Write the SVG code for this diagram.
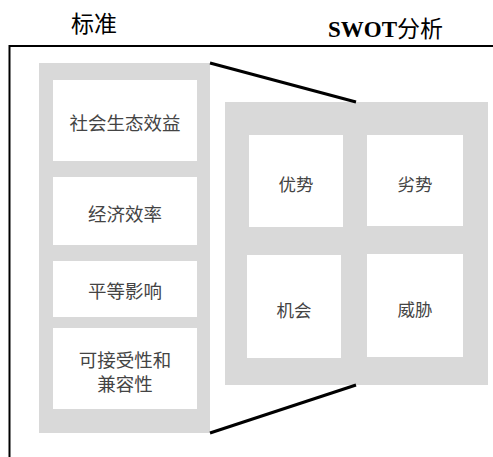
<svg xmlns="http://www.w3.org/2000/svg" width="493" height="457" viewBox="0 0 493 457">
<style>
.panel{fill:#d9d9d9}
.box{fill:#ffffff}
.lbl{font-family:"Noto Sans CJK SC","Noto Sans",sans-serif;font-size:18.5px;fill:#444;text-anchor:middle;dominant-baseline:central}
.sl{font-size:17.5px}
.title{font-family:"Noto Sans CJK SC",sans-serif;font-size:23px;fill:#000}
.frame{fill:none;stroke:#000;stroke-width:2}
.conn{stroke:#000;stroke-width:3;fill:none}
</style>
<rect width="493" height="457" fill="#fff"/>
<text class="title" x="71" y="32">标准</text>
<text class="title" x="328" y="37"><tspan font-family="'Liberation Serif',serif" font-weight="bold">SWOT</tspan>分析</text>
<path class="frame" d="M493 46H9.5V457"/>
<g id="criteria">
<rect class="panel" x="39" y="63" width="171" height="370"/>
</g>
<g id="n1"><rect class="box" x="53" y="80" width="144" height="81"/><text class="lbl" x="125" y="122">社会生态效益</text></g>
<g id="n2"><rect class="box" x="53" y="177" width="144" height="68"/><text class="lbl" x="125" y="213">经济效率</text></g>
<g id="n3"><rect class="box" x="53" y="261" width="144" height="56"/><text class="lbl" x="125" y="290">平等影响</text></g>
<g id="n4"><rect class="box" x="53" y="328" width="144" height="81"/><text class="lbl" x="125" y="359">可接受性和</text><text class="lbl" x="125" y="383">兼容性</text></g>
<g id="swot">
<rect class="panel" x="225" y="102" width="263" height="283"/>
</g>
<g id="s1"><rect class="box" x="249" y="135" width="94" height="92"/><text class="lbl sl" x="296" y="183">优势</text></g>
<g id="s2"><rect class="box" x="367" y="135" width="96" height="91"/><text class="lbl sl" x="415" y="183">劣势</text></g>
<g id="s3"><rect class="box" x="247" y="255" width="94" height="103"/><text class="lbl sl" x="294" y="309">机会</text></g>
<g id="s4"><rect class="box" x="367" y="254" width="96" height="103"/><text class="lbl sl" x="415" y="308">威胁</text></g>
<g id="connectors">
<line class="conn" x1="210" y1="63" x2="356" y2="102"/>
<line class="conn" x1="210" y1="433" x2="356" y2="385"/>
</g>
</svg>
